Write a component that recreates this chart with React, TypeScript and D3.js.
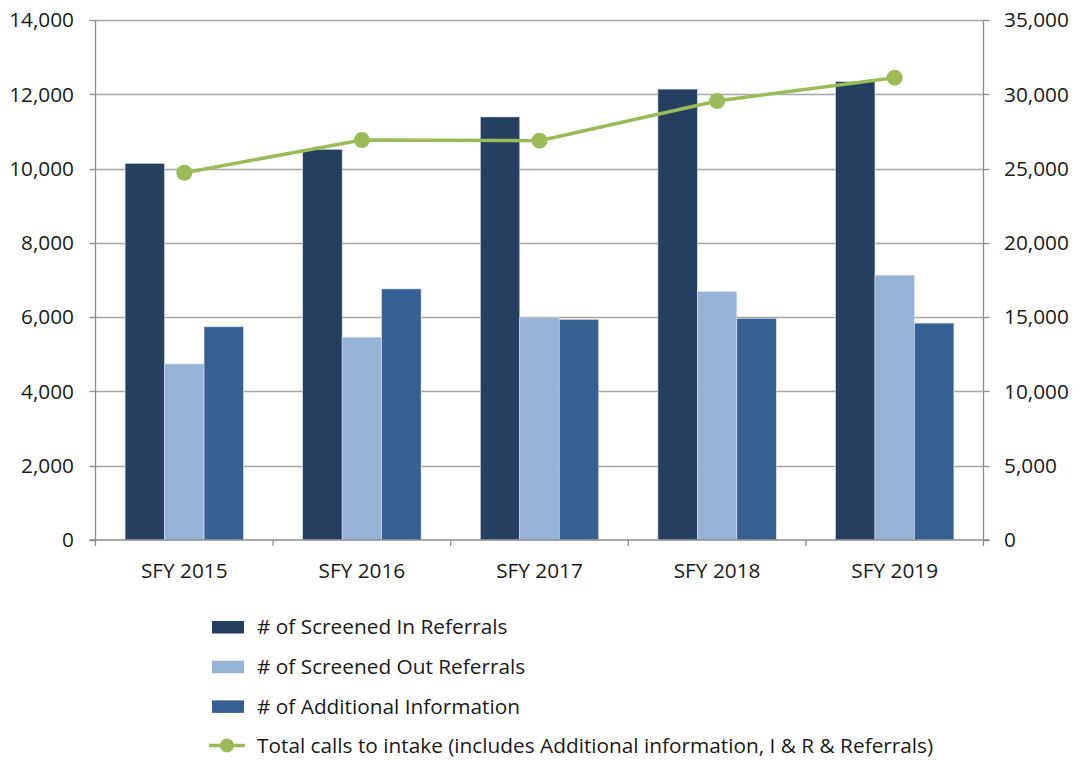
import React from "react";
import * as d3 from "d3";

const categories = ["SFY 2015", "SFY 2016", "SFY 2017", "SFY 2018", "SFY 2019"];
const screenedIn = [10140, 10520, 11390, 12140, 12340];
const screenedOut = [4740, 5460, 5980, 6690, 7130];
const additionalInfo = [5740, 6760, 5940, 5970, 5840];
const totalCalls = [24720, 26920, 26880, 29550, 31120];

const leftTicks = [0, 2000, 4000, 6000, 8000, 10000, 12000, 14000];
const rightTicks = [0, 5000, 10000, 15000, 20000, 25000, 30000, 35000];

const seriesNames = [
  "# of Screened In Referrals",
  "# of Screened Out Referrals",
  "# of Additional Information",
];
const lineName = "Total calls to intake (includes Additional information, I & R & Referrals)";
const barColors = ["#243F60", "#95B3D7", "#366092"];
const lineColor = "#9BBB59";

export default function App() {
  const W = 1078;
  const H = 761;
  const left = 95.5;
  const right = 983.5;
  const top = 20;
  const bottom = 540;
  const font = "'Open Sans', Lato, sans-serif";
  const fs = 20.8;

  const x = d3.scaleBand<string>().domain(categories).range([left, right]).paddingInner(0).paddingOuter(0);
  const yL = d3.scaleLinear().domain([0, 14000]).range([bottom, top]);
  const yR = d3.scaleLinear().domain([0, 35000]).range([bottom, top]);
  const fmt = d3.format(",");

  const bw = x.bandwidth() / 4.5;
  const groups = [screenedIn, screenedOut, additionalInfo];

  const line = d3
    .line<number>()
    .x((_, i) => (x(categories[i]) as number) + x.bandwidth() / 2)
    .y((d) => yR(d));

  const grid = "#A6A6A6";
  const axisC = "#8C8C8C";

  return (
    <svg width={W} height={H} style={{ position: "absolute", left: 0, top: 0, background: "#fff" }}>
      {leftTicks.slice(1).map((t) => (
        <line key={"g" + t} x1={left} x2={right} y1={Math.round(yL(t)) + 0.5} y2={Math.round(yL(t)) + 0.5} stroke={grid} strokeWidth={1.3} />
      ))}
      {groups.map((vals, s) =>
        vals.map((v, i) => {
          const x0 = (x(categories[i]) as number) + bw * 0.75 + s * bw;
          return (
            <rect
              key={`b${s}-${i}`}
              x={x0}
              y={yL(v)}
              width={bw}
              height={bottom - yL(v)}
              fill={barColors[s]}
              stroke="#DCE3EC"
              strokeWidth={0.6}
            />
          );
        })
      )}
      <line x1={left} x2={left} y1={top} y2={bottom} stroke={axisC} strokeWidth={1.3} />
      {leftTicks.map((t) => (
        <g key={"l" + t}>
          <line x1={left - 6} x2={left} y1={Math.round(yL(t)) + 0.5} y2={Math.round(yL(t)) + 0.5} stroke={axisC} strokeWidth={1.3} />
          <text x={74} y={yL(t)} dy="0.35em" textAnchor="end" fontFamily={font} fontSize={fs} fill="#1a1a1a">
            {fmt(t)}
          </text>
        </g>
      ))}
      <line x1={right} x2={right} y1={top} y2={bottom} stroke={axisC} strokeWidth={1.3} />
      {rightTicks.map((t) => (
        <g key={"r" + t}>
          <line x1={right} x2={right + 6} y1={Math.round(yR(t)) + 0.5} y2={Math.round(yR(t)) + 0.5} stroke={axisC} strokeWidth={1.3} />
          <text x={1004} y={yR(t)} dy="0.35em" textAnchor="start" fontFamily={font} fontSize={fs} fill="#1a1a1a">
            {fmt(t)}
          </text>
        </g>
      ))}
      <line x1={left - 6} x2={right + 6} y1={bottom} y2={bottom} stroke={axisC} strokeWidth={1.3} />
      {categories.map((c, i) => (
        <line key={"xt" + i} x1={(x(c) as number)} x2={(x(c) as number)} y1={bottom} y2={bottom + 6} stroke={axisC} strokeWidth={1.3} />
      ))}
      <line x1={right} x2={right} y1={bottom} y2={bottom + 6} stroke={axisC} strokeWidth={1.3} />
      {categories.map((c) => (
        <text key={"xl" + c} x={(x(c) as number) + x.bandwidth() / 2} y={571} dy="0.35em" textAnchor="middle" fontFamily={font} fontSize={fs} fill="#1a1a1a">
          {c}
        </text>
      ))}
      <path d={line(totalCalls) || ""} fill="none" stroke={lineColor} strokeWidth={3.5} />
      {totalCalls.map((v, i) => (
        <circle key={"m" + i} cx={(x(categories[i]) as number) + x.bandwidth() / 2} cy={yR(v)} r={8} fill={lineColor} />
      ))}
      {seriesNames.map((n, i) => (
        <g key={"lg" + i}>
          <rect x={212} y={621 + i * 39.7} width={32} height={12.5} fill={barColors[i]} />
          <text x={257} y={627 + i * 39.7} dy="0.35em" fontFamily={font} fontSize={fs} fill="#1a1a1a">
            {n}
          </text>
        </g>
      ))}
      <g>
        <line x1={209} x2={245} y1={745.5} y2={745.5} stroke={lineColor} strokeWidth={3.5} />
        <circle cx={227} cy={745.5} r={7} fill={lineColor} />
        <text x={257} y={745.5} dy="0.35em" fontFamily={font} fontSize={fs} fill="#1a1a1a">
          {lineName}
        </text>
      </g>
    </svg>
  );
}
